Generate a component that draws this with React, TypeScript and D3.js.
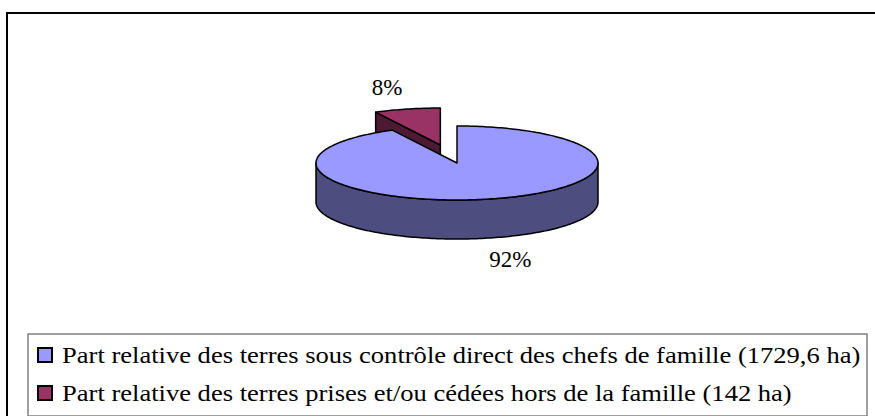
import * as d3 from 'd3';

const labels = [
  'Part relative des terres sous contrôle direct des chefs de famille (1729,6 ha)',
  'Part relative des terres prises et/ou cédées hors de la famille (142 ha)',
];
const values = [1729.6, 142];
const explode = [0, 0.5];
const topColors = ['#9999FF', '#993366'];
const sideColors = ['#4D4D80', '#4D1A33'];

const W = 875;
const H = 416;
const FONT = 'Liberation Serif, Times New Roman, serif';

// pie geometry
const cx = 457;
const cy = 163;
const rx = 141;
const ry = 37;
const depth = 39;

const pt = (x: number, y: number, a: number, k = 1) =>
  [x + rx * k * Math.sin(a), y - ry * k * Math.cos(a)] as [number, number];

const arcPts = (x: number, y: number, a0: number, a1: number) => {
  const n = Math.max(2, Math.ceil(Math.abs(a1 - a0) / 0.02));
  return d3.range(n + 1).map((i) => pt(x, y, a0 + ((a1 - a0) * i) / n));
};

const line = d3.line();

export default function App() {
  const total = d3.sum(values);
  const arcs = d3.pie<number>().sort(null)(values);

  const slices = arcs.map((a, i) => {
    const mid = (a.startAngle + a.endAngle) / 2;
    const [ox, oy] = pt(cx, cy, mid, explode[i]);
    return { ...a, i, mid, ox, oy };
  });
  // back slices first
  const order = [...slices].sort((a, b) => a.oy - b.oy);

  return (
    <svg width={W} height={H} style={{ position: 'absolute', left: 0, top: 0 }} fontFamily={FONT}>
      <rect x={0} y={0} width={W} height={H} fill='#fff' />
      <rect x={7} y={13} width={W + 20} height={H + 20} fill='none' stroke='#000' strokeWidth={2} />

      {order.map((s) => {
        const { i, ox, oy, startAngle: a0, endAngle: a1 } = s;
        const parts: JSX.Element[] = [];
        // radial cut faces
        const radial = (a: number, key: string) => {
          const [ex, ey] = pt(ox, oy, a);
          const d = line([
            [ox, oy],
            [ex, ey],
            [ex, ey + depth],
            [ox, oy + depth],
          ]) + 'Z';
          parts.push(<path key={key} d={d} fill={sideColors[i]} stroke='#000' strokeWidth={1.5} strokeLinejoin='round' />);
        };
        if (Math.sin(a0) < -1e-6) radial(a0, 'r0');
        if (Math.sin(a1) > 1e-6) radial(a1, 'r1');
        // outer wall, front part only
        const f0 = Math.max(a0, Math.PI / 2);
        const f1 = Math.min(a1, (3 * Math.PI) / 2);
        if (f1 > f0) {
          const top = arcPts(ox, oy, f0, f1);
          const bot = top.map(([x, y]) => [x, y + depth] as [number, number]).reverse();
          parts.push(
            <path key='wall' d={line([...top, ...bot]) + 'Z'} fill={sideColors[i]} stroke='#000' strokeWidth={1.5} strokeLinejoin='round' />
          );
        }
        // top face
        const topFace = line([[ox, oy], ...arcPts(ox, oy, a0, a1)]) + 'Z';
        parts.push(<path key='top' d={topFace} fill={topColors[i]} stroke='#000' strokeWidth={1.5} strokeLinejoin='round' />);
        return <g key={i}>{parts}</g>;
      })}

      {slices.map((s) => {
        const [lx, ly] = pt(s.ox, s.oy, s.mid, 1.6);
        const front = Math.cos(s.mid) < 0;
        return (
          <text
            key={'l' + s.i}
            x={lx}
            y={ly + (front ? depth : 0)}
            textAnchor='middle'
            dominantBaseline='central'
            fontSize={23}
            fill='#000'
          >
            {Math.round((values[s.i] / total) * 100)}%
          </text>
        );
      })}

      <rect x={28} y={334} width={839} height={82} fill='#fff' stroke='#808080' strokeWidth={1.5} />
      {labels.map((t, i) => (
        <g key={t} transform={`translate(38, ${355 + i * 38})`}>
          <rect x={0} y={-7} width={14} height={14} fill={topColors[i]} stroke='#000' strokeWidth={2} />
          {/* serif face is narrower-glyph but wider-set; stretch to reference width */}
          <text transform='translate(24, 8) scale(1.155, 1)' fontSize={23} fill='#000'>
            {t}
          </text>
        </g>
      ))}
    </svg>
  );
}
